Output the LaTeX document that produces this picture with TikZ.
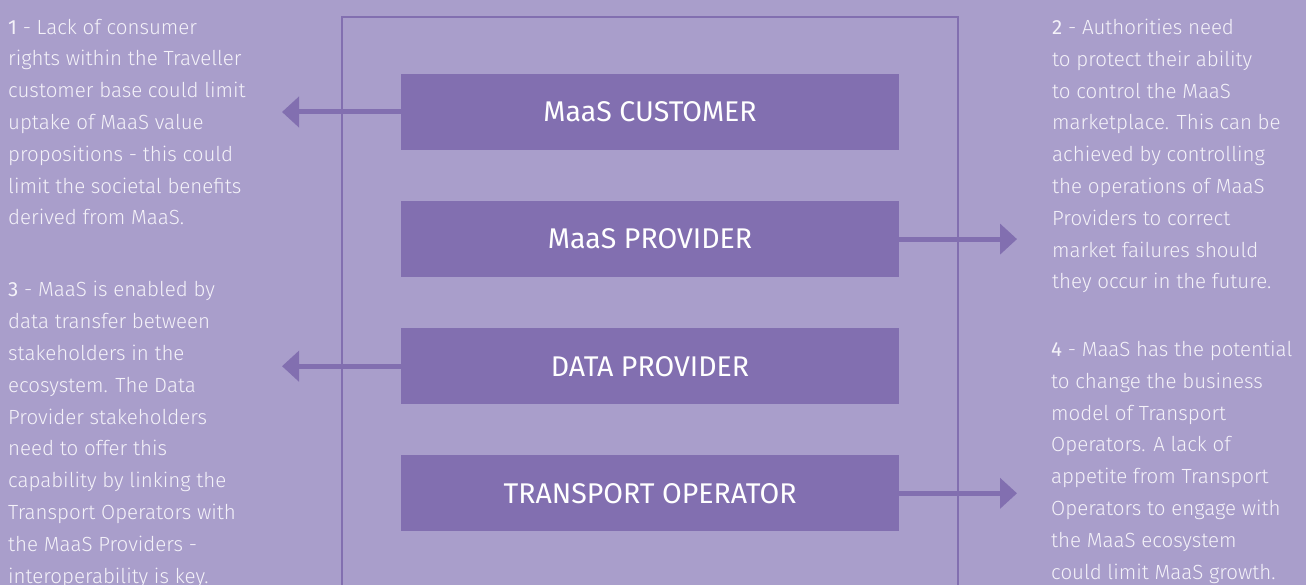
\documentclass[tikz,border=0pt]{standalone}
\usepackage{fontspec}
\setmainfont{Fira Sans Light}
\newfontfamily\numfont{Fira Sans}
\usetikzlibrary{positioning,arrows.meta}
\definecolor{bgpurple}{RGB}{169,158,203}
\definecolor{boxpurple}{RGB}{130,111,176}
\definecolor{notewhite}{RGB}{244,242,249}
\newcommand{\notenum}[1]{{\numfont #1}}
\tikzset{
  role/.style={fill=boxpurple, minimum width=498pt, minimum height=76pt, inner sep=0pt,
    text=white, font=\numfont\fontsize{28.5}{30}\selectfont},
  % anchored at the baseline of the last line
  note/.style={align=left, anchor=base west, inner sep=0pt, text=notewhite,
    font=\fontsize{20.5}{31.8}\selectfont},
  link/.style={boxpurple, line width=5pt, -{Triangle[length=17pt,width=30pt]}},
  frame/.style={boxpurple, line width=1.5pt},
}
\begin{document}
\begin{tikzpicture}[x=1pt, y=-1pt, node distance=50.7pt]
	\fill[bgpurple] (0,0) rectangle (1306,585);
	\useasboundingbox (0,0) rectangle (1306,585);
	\draw[frame] (342,590) |- (958,17) -- (958,590);

	% the four stakeholders
	\node[role] (cust) at (650,112) {MaaS CUSTOMER};
	\node[role, below=of cust] (prov) {MaaS PROVIDER};
	\node[role, below=of prov] (data) {DATA PROVIDER};
	\node[role, below=of data] (oper) {TRANSPORT OPERATOR};

	% the notes
	\node[note] (note1) at (8,225) {\notenum{1} - Lack of consumer\\
	  rights within the Traveller\\ customer base could limit\\
	  uptake of MaaS value\\ propositions - this could\\
	  limit the societal benefits\\ derived from MaaS.};
	\node[note] (note2) at (1052,289) {\notenum{2} - Authorities need\\
	  to protect their ability\\ to control the MaaS\\
	  marketplace. This can be\\ achieved by controlling\\
	  the operations of MaaS\\ Providers to correct\\
	  market failures should\\ they occur in the future.};
	\node[note] (note3) at (8,583) {\notenum{3} - MaaS is enabled by\\
	  data transfer between\\ stakeholders in the\\
	  ecosystem. The Data\\ Provider stakeholders\\
	  need to offer this\\ capability by linking the\\
	  Transport Operators with\\ the MaaS Providers -\\
	  interoperability is key.};
	\node[note] (note4) at (1051,579) {\notenum{4} - MaaS has the potential\\
	  to change the business\\ model of Transport\\
	  Operators. A lack of\\ appetite from Transport\\
	  Operators to engage with\\ the MaaS ecosystem\\
	  could limit MaaS growth.};

	% arrows out of the frame
	\coordinate (tipL) at (282,0);
	\coordinate (tipR) at (1017,0);
	\draw[link] (cust.west) -- (cust.west -| tipL);
	\draw[link] (prov.east) -- (prov.east -| tipR);
	\draw[link] (data.west) -- (data.west -| tipL);
	\draw[link] (oper.east) -- (oper.east -| tipR);
\end{tikzpicture}
\end{document}
